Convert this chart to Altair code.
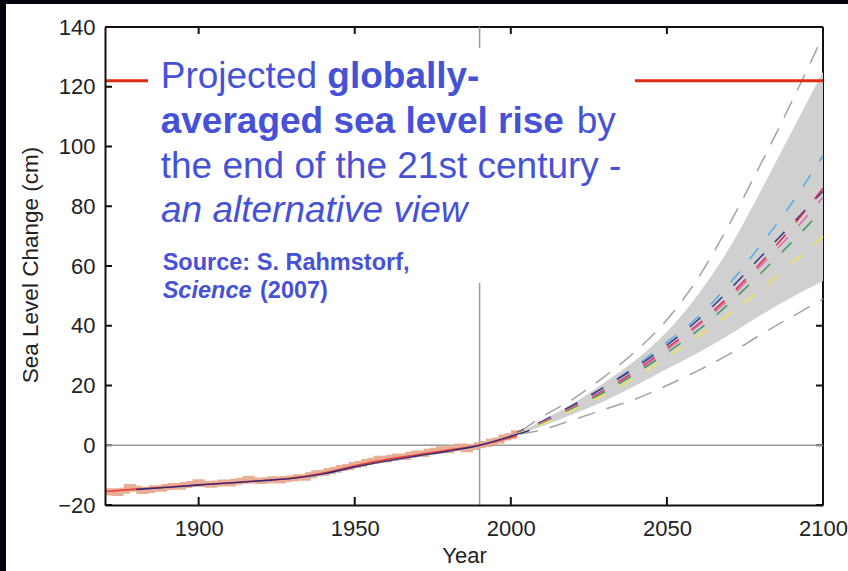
import altair as alt
import pandas as pd

# ---------------- data ----------------
obs_years = list(range(1870, 2003, 2))
obs_cm = [-15.8, -15.4, -16.0, -15.2, -14.0, -14.6, -15.3, -15.0, -14.4, -14.6,
          -14.0, -13.6, -13.9, -13.3, -13.0, -12.4, -13.0, -13.2, -12.8, -12.5,
          -12.8, -12.2, -11.9, -11.2, -11.8, -12.0, -11.7, -11.4, -11.8, -11.3,
          -11.1, -10.7, -10.9, -10.0, -9.4, -9.2, -8.6, -8.2, -7.6, -7.3,
          -6.6, -6.2, -5.6, -5.2, -4.5, -4.8, -4.2, -3.8, -3.9, -3.2,
          -2.8, -2.9, -2.2, -1.8, -1.3, -1.7, -0.9, -0.4, -1.3, -0.6,
          0.0, 0.4, 1.2, 1.6, 2.6, 3.0, 4.0]

fit_red_years = [1870, 1880, 1890, 1900, 1910, 1920, 1930, 1940, 1950, 1960, 1970, 1980, 1990, 2000, 2002]
fit_red_cm = [-15.5, -14.7, -14.0, -13.2, -12.6, -11.9, -11.0, -9.3, -6.9, -4.8, -3.2, -1.6, 0.0, 2.6, 3.2]

fit_navy_years = [1880, 1890, 1900, 1910, 1920, 1930, 1940, 1950, 1960, 1970, 1980, 1990, 2000, 2006]
fit_navy_cm = [-14.8, -14.1, -13.3, -12.6, -11.9, -11.1, -9.6, -7.3, -5.3, -3.6, -2.0, 0.0, 3.0, 5.0]

band_years = [2003, 2010, 2020, 2030, 2040, 2050, 2060, 2070, 2080, 2090, 2100]
band_upper = [4.3, 8.3, 14.0, 21.0, 28.5, 38.0, 50.5, 66.0, 85.0, 105.0, 125.0]
band_lower = [4.0, 6.4, 10.5, 14.8, 20.0, 25.5, 31.0, 37.0, 43.5, 49.5, 55.0]

dash_upper = [4.5, 9.5, 15.5, 23.0, 31.5, 42.0, 56.0, 74.0, 94.0, 115.0, 137.0]
dash_lower = [3.8, 5.2, 8.5, 12.0, 15.5, 20.0, 25.0, 30.5, 37.0, 43.0, 49.0]

scen_years = [2000, 2010, 2020, 2030, 2040, 2050, 2060, 2070, 2080, 2090, 2100]
scen_blue = [3.5, 8.0, 13.5, 19.5, 26.5, 34.5, 43.0, 54.0, 67.0, 81.0, 97.0]
scen_navy = [3.5, 8.0, 13.5, 19.5, 26.0, 33.5, 42.0, 52.0, 63.0, 74.0, 85.0]
scen_red = [3.4, 7.7, 13.0, 18.5, 25.0, 32.5, 40.5, 50.0, 61.0, 73.0, 86.0]
scen_pink = [3.3, 7.6, 12.8, 18.2, 24.5, 32.0, 40.0, 49.0, 60.0, 71.0, 83.0]
scen_green = [3.2, 7.3, 12.4, 17.8, 24.0, 31.0, 38.5, 47.5, 57.5, 68.0, 79.0]
scen_yellow = [3.0, 7.0, 12.0, 17.0, 22.8, 29.5, 36.5, 44.0, 52.0, 61.0, 70.0]
scen_names = ["blue", "navy", "red", "pink", "green", "yellow"]
scen_colors = ["#5aaee2", "#3d3a8e", "#d8304c", "#e068a8", "#4a9a60", "#f0e35a"]

ref_level = [122]
ref_year = [1990]
y_tick_values = [-20, 0, 20, 40, 60, 80, 100, 120, 140]
x_tick_values = [1900, 1950, 2000, 2050]
x_label_values = [1900, 1950, 2000, 2050, 2100]

y_title = "Sea Level Change (cm)"
x_title = "Year"
title_l1_regular = "Projected "
title_l1_bold = "globally-"
title_l2_bold = "averaged sea level rise"
title_l2_regular = "by"
title_l3_regular = "the end of the 21st century -"
title_l4_italic = "an alternative view"
source_l1 = "Source: S. Rahmstorf,"
source_l2_italic = "Science"
source_l2 = "(2007)"

# ---------------- frames ----------------
obs_df = pd.DataFrame({"year": obs_years, "cm": obs_cm})
red_df = pd.DataFrame({"year": fit_red_years, "cm": fit_red_cm})
navy_df = pd.DataFrame({"year": fit_navy_years, "cm": fit_navy_cm})
band_df = pd.DataFrame({"year": band_years, "cm": band_lower, "cm2": band_upper})
dup_df = pd.DataFrame({"year": band_years, "cm": dash_upper})
dlo_df = pd.DataFrame({"year": band_years, "cm": dash_lower})
scen_lists = [scen_blue, scen_navy, scen_red, scen_pink, scen_green, scen_yellow]
rows = []
for name, vals in zip(scen_names, scen_lists):
    for yr, v in zip(scen_years, vals):
        rows.append({"year": yr, "cm": v, "scenario": name})
scen_df = pd.DataFrame(rows)
ytick_df = pd.DataFrame({"cm": y_tick_values})
xtick_df = pd.DataFrame({"year": x_tick_values})
hline_df = pd.DataFrame({"cm": [0]})
vline_df = pd.DataFrame({"year": ref_year})
redline_df = pd.DataFrame({"cm": ref_level})

W, H = 718, 478
FONT = "Liberation Sans"
BLUE = "#4652d6"

xs = alt.Scale(domain=[1870, 2100], nice=False, zero=False)
ys = alt.Scale(domain=[-20, 140], nice=False, zero=False)

xaxis = alt.Axis(values=x_label_values, format="d", ticks=False, grid=False,
                 domainColor="#111111", domainWidth=2, labelFont=FONT, labelFontSize=22,
                 labelColor="#222222", labelPadding=13, labelFlush=False,
                 title=x_title, titleFont=FONT, titleFontSize=22, titleFontWeight="normal",
                 titleColor="#222222", titlePadding=6, zindex=1)
yaxis = alt.Axis(values=y_tick_values, ticks=False, grid=False,
                 domainColor="#111111", domainWidth=2, labelFont=FONT, labelFontSize=22,
                 labelColor="#222222", labelPadding=10, title=None, zindex=1)

X = alt.X("year:Q", scale=xs, axis=xaxis)
Y = alt.Y("cm:Q", scale=ys, axis=yaxis)

background = alt.Chart(hline_df).mark_rect(color="white").encode(
    x=alt.value(-99), x2=alt.value(W + 25), y=alt.value(-23), y2=alt.value(H + 66))

frame_top = alt.Chart(hline_df).mark_rule(color="#111111", strokeWidth=2).encode(
    x=alt.value(0), x2=alt.value(W), y=alt.value(0))
frame_right = alt.Chart(hline_df).mark_rule(color="#111111", strokeWidth=2).encode(
    x=alt.value(W), y=alt.value(0), y2=alt.value(H))

tick_left = alt.Chart(ytick_df).mark_rule(color="#111111", strokeWidth=2).encode(
    y=Y, x=alt.value(0), x2=alt.value(7))
tick_right = alt.Chart(ytick_df).mark_rule(color="#111111", strokeWidth=2).encode(
    y=Y, x=alt.value(W - 7), x2=alt.value(W))
tick_bottom = alt.Chart(xtick_df).mark_rule(color="#111111", strokeWidth=2).encode(
    x=X, y=alt.value(H - 8), y2=alt.value(H))
tick_top = alt.Chart(xtick_df).mark_rule(color="#111111", strokeWidth=2).encode(
    x=X, y=alt.value(0), y2=alt.value(7))

zero_line = alt.Chart(hline_df).mark_rule(color="#9a9a9a", strokeWidth=1.5).encode(
    y=Y, x=alt.value(0), x2=alt.value(W))
v_line = alt.Chart(vline_df).mark_rule(color="#9a9a9a", strokeWidth=1.5).encode(
    x=X, y=alt.value(0), y2=alt.value(H))

band = alt.Chart(band_df).mark_area(color="#d0d0d0", interpolate="monotone").encode(
    x=X, y=Y, y2="cm2:Q")
dash_up = alt.Chart(dup_df).mark_line(color="#a3a3a3", strokeWidth=1.5, strokeDash=[18, 12],
                                      interpolate="monotone").encode(x=X, y=Y)
dash_lo = alt.Chart(dlo_df).mark_line(color="#a3a3a3", strokeWidth=1.5, strokeDash=[18, 12],
                                      interpolate="monotone").encode(x=X, y=Y)
scen = alt.Chart(scen_df).mark_line(strokeWidth=1.6, strokeDash=[14, 16],
                                    interpolate="monotone").encode(
    x=X, y=Y,
    color=alt.Color("scenario:N", scale=alt.Scale(domain=scen_names, range=scen_colors), legend=None),
    detail="scenario:N")

obs = alt.Chart(obs_df).mark_line(color="#e6a48a", strokeWidth=6, opacity=0.9,
                                  interpolate="step").encode(x=X, y=Y)
red_fit = alt.Chart(red_df).mark_line(color="#e8403a", strokeWidth=1.6,
                                      interpolate="monotone").encode(x=X, y=Y)
navy_fit = alt.Chart(navy_df).mark_line(color="#2a2a7e", strokeWidth=1.4,
                                        interpolate="monotone").encode(x=X, y=Y)

red_line = alt.Chart(redline_df).mark_rule(color="#e02a10", strokeWidth=3).encode(
    y=Y, x=alt.value(0), x2=alt.value(W))

box = alt.Chart(hline_df).mark_rect(color="white").encode(
    x=alt.value(43), x2=alt.value(530), y=alt.value(21), y2=alt.value(256))


def txt(s, x, y, size, weight="normal", style="normal", color=BLUE, angle=0, align="left"):
    return alt.Chart(hline_df).mark_text(
        text=s, font=FONT, fontSize=size, fontWeight=weight, fontStyle=style,
        color=color, align=align, baseline="alphabetic", angle=angle).encode(
        x=alt.value(x), y=alt.value(y))


texts = [
    txt(y_title, -67.5, H / 2 - 1, 22.5, color="#222222", angle=270, align="center"),
    txt(title_l1_regular, 55.7, 61, 37),
    txt(title_l1_bold, 222.3, 61, 37, weight="bold"),
    txt(title_l2_bold, 55.7, 106, 37, weight="bold"),
    txt(title_l2_regular, 471.7, 106, 37),
    txt(title_l3_regular, 55.7, 151, 37),
    txt(title_l4_italic, 56, 195, 37, style="italic"),
    txt(source_l1, 57.7, 243, 23.5, weight="bold"),
    txt(source_l2_italic, 57.7, 271, 23.5, weight="bold", style="italic"),
    txt(source_l2, 155, 271, 23.5, weight="bold"),
]

chart = alt.layer(
    background, tick_left, tick_right, tick_bottom, tick_top, frame_top, frame_right,
    zero_line, v_line, band, dash_up, dash_lo, scen, obs, red_fit, navy_fit,
    red_line, box, *texts
).properties(
    width=W, height=H,
    padding={"left": 105, "top": 27, "right": 25, "bottom": 66},
    autosize=alt.AutoSizeParams(type="none"),
    background="#02030c",
).configure_view(stroke="transparent")

chart.save("out.html", embed_options={"renderer": "svg", "actions": False})
